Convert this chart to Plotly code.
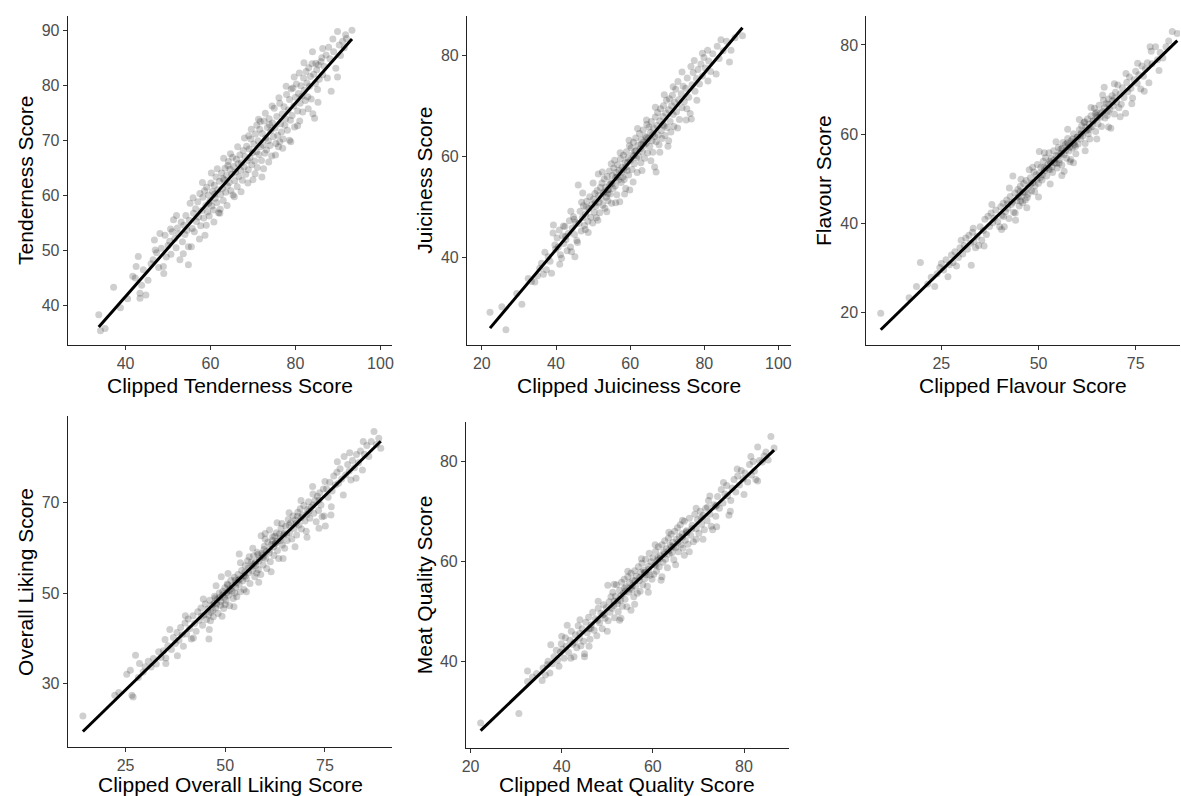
import numpy as np
import plotly.graph_objects as go

# ---------------- data ----------------
tenderness_pts = [
    (33.7,38.3),(34.1,35.4),(35.2,35.8),(37.2,43.3),(38.8,39.6),(40.5,41.2),(41.7,45.3),(42.3,45.0),(42.5,47.1),(43.0,48.9),
    (43.4,42.2),(43.4,41.3),(43.8,43.7),(44.8,41.9),(44.2,46.5),(45.3,44.6),
    (46.0,47.6),(46.5,48.3),(47.0,50.1),(47.3,49.6),(47.8,46.9),(48.1,53.1),(48.4,50.4),(48.9,47.1),(49.3,52.8),(49.6,48.8),
    (50.0,50.9),(50.4,51.7),(50.7,49.3),(51.0,53.4),(51.3,55.6),(51.6,52.2),(51.9,50.5),(52.2,54.1),(52.5,53.0),(52.8,48.3),
    (53.1,55.2),(53.4,51.6),(53.7,54.6),(54.0,52.9),(54.2,56.4),(54.5,53.7),(54.8,50.7),(54.8,47.4),(55.0,55.5),(55.2,58.6),
    (55.5,50.7),(55.7,54.0),
    (56.0,56.8),(56.2,53.4),(56.5,57.6),(56.7,55.3),(57.0,58.9),(57.2,56.1),(57.5,60.4),(57.7,54.5),(58.0,57.3),(58.2,59.7),
    (58.4,55.9),(58.7,52.8),(58.9,58.2),(59.1,61.5),(59.3,57.0),(59.5,60.1),(59.7,56.3),(59.9,59.0),(60.1,62.3),(60.3,58.1),
    (60.5,60.8),(60.7,57.4),(60.9,61.9),(61.1,59.5),(61.3,63.4),(61.5,58.7),(61.7,61.0),(61.9,56.9),(62.1,62.6),(62.2,56.8),
    (62.4,60.2),(62.6,64.1),(62.8,61.3),(63.0,59.1),(63.2,62.9),(63.4,65.0),(63.6,60.6),(63.8,63.7),(64.0,61.8),(64.2,66.2),
    (64.4,62.4),(64.6,64.8),(64.8,60.9),(65.0,63.9),(65.2,67.0),(65.3,60.1),(65.5,65.3),(65.7,62.7),(65.9,64.3),(66.1,66.6),
    (66.3,61.6),(66.5,65.8),(66.7,63.5),(66.9,67.4),(67.1,64.6),(64.1,65.5),(62.9,63.1),(61.0,60.3),(59.6,58.6),(58.6,60.9),
    (67.3,66.0),(67.5,62.8),(67.7,68.2),(67.9,65.2),(68.1,67.1),(68.3,63.9),(68.5,69.0),(68.7,66.4),(68.9,64.7),(69.1,68.5),
    (69.3,66.9),(69.5,70.3),(69.7,65.6),(69.9,67.8),(70.0,62.9),(70.2,69.4),(70.4,66.3),(70.6,71.2),(70.8,68.0),(71.0,65.1),
    (71.2,70.0),(71.4,67.5),(71.6,72.1),(71.8,68.9),(72.0,66.4),(72.2,71.3),(72.4,69.2),(72.6,73.6),(72.8,67.7),(73.0,70.5),
    (73.2,68.3),(73.4,72.4),(73.6,70.0),(73.8,74.0),(74.0,69.1),(74.2,71.8),(74.4,67.2),(74.6,73.2),(74.8,70.7),(75.0,75.9),
    (75.2,72.3),(75.4,69.5),(75.6,74.4),(75.8,71.0),(76.0,68.9),(76.3,69.8),(76.3,76.8),(76.5,73.1),(76.7,71.6),(76.9,74.9),
    (77.1,70.3),(77.3,76.2),(77.5,72.8),(77.7,74.0),(77.9,78.4),(69.0,70.9),(70.9,72.8),(72.5,64.9),(73.9,72.9),(71.7,73.5),
    (78.1,71.9),(78.3,75.6),(78.6,70.1),(78.6,77.5),(78.8,73.7),(79.0,79.4),(79.2,74.6),(79.4,79.6),(79.6,76.3),(79.8,72.5),
    (80.0,77.9),(80.2,80.3),(80.5,72.7),(80.5,75.4),(80.7,78.6),(80.9,82.3),(81.1,76.8),(81.3,80.0),(81.5,78.1),(81.7,75.2),
    (81.9,81.4),(82.1,79.2),(82.3,77.3),(82.5,82.6),(82.7,80.5),(82.9,78.0),(83.1,83.3),(83.3,79.9),(83.5,81.7),(83.7,77.6),
    (83.9,84.0),(84.1,74.9),(84.3,82.1),(84.5,74.1),(84.7,80.4),(84.8,84.1),(85.0,82.9),(85.2,79.3),(85.4,83.8),(85.6,81.2),
    (86.0,84.4),(86.4,86.8),(86.4,82.0),(86.8,83.5),(87.2,85.6),
    (87.5,81.4),(87.8,87.0),(88.1,84.9),(88.4,79.0),(88.8,88.5),(89.0,86.2),(89.5,83.2),(89.9,81.6),(89.9,89.9),(90.3,87.4),
    (90.6,85.5),(91.1,88.1),(91.5,86.9),(92.0,88.6),(93.3,90.1),(91.8,89.3),
    (55.9,59.6),(57.4,52.1),(58.1,62.4),(59.0,54.6),(60.2,64.1),(60.8,55.2),(61.6,64.9),(62.3,57.5),(63.1,66.8),(63.9,58.2),
    (64.7,67.6),(65.6,59.8),(66.4,68.9),(67.2,60.7),(68.0,70.5),(68.8,62.3),(69.6,72.1),(70.5,64.0),(71.3,73.9),(72.1,63.4),
    (72.9,75.0),(73.7,66.1),(74.5,76.3),(75.3,67.4),(76.1,77.8),(77.0,68.6),(77.8,79.9),(78.9,69.8),(79.7,81.6),(81.0,73.6),
    (82.0,84.2),(83.0,75.8),(84.0,86.2),(85.3,77.0),(86.2,85.1),(52.0,56.4),(50.6,53.9),(49.0,45.8),(46.8,51.9),(53.6,49.4),
]

juiciness_pts = [
    (22.2,29.2),(25.4,30.3),(26.5,25.7),(29.4,32.9),(30.8,30.8),(32.5,35.9),(33.4,35.3),(34.3,35.2),(35.0,36.4),(35.6,37.9),
    (36.1,38.9),(36.6,36.7),(37.4,37.6),(37.9,40.2),(38.8,36.9),(38.4,39.3),(39.3,46.5),(39.7,42.5),(39.2,44.9),(39.9,41.7),
    (40.3,43.9),(40.6,42.1),(40.9,45.5),(41.2,40.6),(41.5,39.9),(41.8,44.3),(42.1,42.8),(42.4,46.2),(42.7,43.6),(43.0,41.4),
    (43.3,44.8),(43.6,47.3),(43.9,42.1),(44.2,41.2),(44.4,45.9),(44.7,48.1),(45.1,40.2),(45.0,44.6),(45.3,47.0),(45.6,43.4),
    (46.0,54.4),(46.2,46.8),(46.5,49.2),(46.8,45.3),(47.1,47.9),(47.4,50.3),(47.7,46.4),(48.0,48.6),(48.3,51.2),(48.6,47.2),
    (48.9,49.8),(49.1,52.1),(49.4,48.0),(49.7,50.5),(49.9,46.9),(48.2,50.0),(46.9,51.0),(44.9,47.6),(42.6,44.2),(47.9,45.6),
    (50.1,51.6),(50.3,49.0),(50.5,52.7),(50.7,50.2),(50.9,47.9),(51.1,53.3),(51.4,56.6),(51.6,51.0),(51.8,48.9),(52.0,53.9),
    (52.2,51.7),(52.4,54.8),(52.6,50.4),(52.8,52.8),(53.0,55.6),(53.2,49.8),(53.4,54.0),(53.6,52.0),(53.8,56.1),(54.0,51.3),
    (54.2,53.5),(54.4,57.2),(54.6,52.6),(54.8,55.0),(55.0,50.8),(55.2,56.3),(55.4,53.7),(55.6,57.8),(55.8,59.3),(56.0,54.2),
    (56.2,56.9),(56.4,52.5),(56.6,58.4),(56.8,55.4),(57.0,57.3),(57.2,51.1),(57.4,59.6),(57.6,54.9),(57.8,57.9),(58.0,56.0),
    (58.2,60.3),(58.4,55.5),(58.6,58.8),(58.8,53.7),(59.0,61.0),(59.2,57.3),(59.4,59.7),(59.6,56.4),(59.9,53.4),(59.8,62.2),
    (55.1,54.7),(53.9,53.4),(56.1,55.9),(57.7,56.8),(58.9,58.0),(52.9,53.0),(54.5,54.5),(51.5,52.3),(50.6,50.9),(59.3,58.9),
    (60.1,59.3),(60.3,61.8),(60.5,57.5),(60.7,60.4),(60.9,62.9),(61.1,58.6),(61.3,61.1),(61.5,63.7),(61.7,59.8),(61.9,56.9),
    (62.1,62.3),(62.3,60.1),(62.5,64.6),(62.7,61.6),(62.9,58.8),(63.1,63.4),(63.3,61.0),(63.5,65.3),(63.7,62.2),(63.9,59.7),
    (64.1,64.0),(64.3,62.7),(64.5,66.4),(64.7,60.8),(64.9,63.6),(65.1,65.9),(65.3,62.1),(65.5,64.8),(65.7,67.0),(65.9,63.2),
    (66.1,60.9),(66.3,65.7),(66.6,58.0),(66.6,64.0),(66.8,67.9),(67.0,57.0),(67.0,63.0),(67.2,66.2),(67.4,68.8),(67.6,64.3),
    (67.8,62.4),(68.0,67.1),(68.2,69.5),(68.4,65.2),(68.6,63.6),(68.8,68.0),(69.0,70.1),(69.2,66.1),(69.4,64.2),(69.6,68.7),
    (69.8,71.2),(70.0,65.8),(61.6,61.2),(63.0,62.5),(64.4,63.8),
    (70.2,62.1),(70.4,69.3),(70.6,71.5),(70.8,67.0),(71.0,64.9),(71.2,70.1),(71.4,72.2),(71.6,68.4),(71.8,66.0),(72.0,70.8),
    (72.3,73.4),(72.5,68.9),(72.9,74.9),(73.1,71.3),(73.3,67.4),(73.8,72.5),(74.0,69.7),(74.3,74.0),(74.6,70.9),(75.1,67.3),
    (75.0,73.6),(75.4,75.6),(75.8,71.8),(76.2,68.6),(76.5,67.5),(76.7,74.3),(77.0,76.7),(77.3,79.1),(77.5,73.0),(77.9,75.5),
    (78.3,77.3),(78.7,74.4),(79.1,78.4),(79.5,76.0),(79.9,79.7),
    (80.3,77.6),(80.9,81.1),(81.2,79.0),(81.7,76.9),(82.3,80.4),(83.2,76.4),(83.5,81.9),(84.0,79.5),(84.5,83.2),(85.1,81.0),
    (86.0,82.9),(86.8,78.8),(87.2,81.1),(88.3,83.6),(90.3,84.0),
    (44.0,49.2),(45.8,43.0),(47.2,52.8),(48.7,45.0),(50.0,54.8),(51.3,47.4),(52.5,57.0),(53.7,49.1),(54.9,58.6),(56.1,50.9),
    (57.3,60.8),(58.5,52.6),(59.7,63.3),(60.8,55.0),(62.0,65.6),(63.2,57.3),(64.4,67.3),(65.6,59.2),(66.8,69.8),(68.0,60.9),
    (69.2,72.3),(70.4,63.2),(71.6,73.9),(72.8,65.7),(74.0,76.8),(75.3,69.5),(76.4,77.9),(78.0,71.2),(79.5,80.5),(81.0,75.0),
    (42.0,46.3),(41.0,38.7),(37.0,41.1),(56.5,56.0),(61.0,60.2),(63.6,62.9),(66.0,64.4),(58.3,57.5),(54.0,52.7),(68.9,66.4),
]

flavour_pts = [
    (9.4,19.8),(16.7,23.3),(18.6,25.8),(19.6,31.2),(21.5,26.4),(22.4,27.9),(23.3,25.8),(23.9,28.7),(24.6,30.1),(25.0,31.0),
    (25.6,29.5),(26.2,31.8),(26.7,28.0),(27.1,30.7),(27.6,32.9),(28.0,31.2),(28.5,33.6),(28.9,30.4),(29.4,32.3),(29.8,34.5),
    (30.1,36.2),(30.5,33.1),(30.9,35.0),(31.3,36.7),(31.7,34.2),(32.1,37.3),(32.5,35.5),(32.7,30.6),(33.0,38.0),(33.4,35.9),
    (33.8,34.5),(34.2,37.1),(34.6,35.0),(35.0,39.2),(35.4,36.2),(35.8,38.4),(36.2,40.9),(36.6,37.5),(37.0,41.6),(37.4,39.3),
    (37.8,42.3),(38.2,40.1),(38.6,41.2),(39.0,43.0),(39.5,40.4),
    (40.0,39.2),(40.3,43.7),(40.6,41.8),(40.9,44.5),(41.2,39.2),(41.5,42.6),(41.8,45.2),(42.1,43.4),(42.4,41.1),(42.7,46.0),
    (43.0,44.2),(43.4,50.6),(43.6,42.5),(43.9,46.8),(44.1,40.7),(44.4,45.1),(44.7,47.6),(45.0,43.9),(45.3,48.3),(45.6,46.0),
    (45.9,44.6),(46.2,48.9),(46.5,47.0),(46.8,49.6),(47.1,45.8),(47.4,48.0),(47.6,52.0),(47.9,50.2),(48.2,47.3),(48.5,49.1),
    (48.8,51.5),(49.1,48.4),(49.4,50.9),(49.7,53.2),(50.0,49.0),(49.0,47.1),(48.0,48.8),(46.0,46.9),(44.8,45.9),(43.3,44.7),
    (42.0,44.4),(41.0,41.5),(46.6,45.2),(47.3,46.5),(45.4,45.0),
    (50.2,56.1),(50.3,51.3),(50.6,52.6),(50.9,49.7),(51.2,53.9),(51.5,51.8),(51.8,54.7),(52.1,50.6),(52.4,53.2),(52.7,55.8),
    (53.0,52.0),(53.3,54.5),(53.6,51.4),(53.9,56.3),(54.2,53.6),(54.5,55.2),(54.8,52.4),(55.1,57.0),(55.4,54.3),(55.7,56.6),
    (56.0,53.1),(56.3,58.1),(56.6,51.7),(56.6,55.4),(56.9,57.7),(57.2,54.6),(57.5,59.0),(57.8,56.2),(58.1,53.8),(58.3,54.3),
    (58.4,58.5),(58.7,56.9),(59.0,60.1),(59.3,57.6),(59.6,55.6),(59.9,59.3),(51.0,50.9),(52.0,52.4),(53.1,53.5),(54.0,54.2),
    (55.0,55.1),(55.9,55.6),(57.0,56.4),(58.0,57.1),(59.1,58.2),(57.4,58.0),(56.1,56.8),(54.6,53.4),(53.5,52.7),(52.6,52.1),
    (51.4,52.6),(50.5,50.3),(55.3,53.5),(59.5,57.2),(58.8,58.9),
    (60.2,57.8),(60.5,61.0),(60.8,58.9),(61.1,61.9),(61.4,59.6),(61.7,62.6),(62.0,57.9),(62.3,60.8),(62.6,63.4),(62.9,61.0),
    (63.2,58.9),(63.5,64.1),(63.8,61.7),(64.1,63.0),(64.4,65.8),(64.7,60.6),(65.0,64.2),(65.3,62.3),(65.6,66.5),(65.9,63.8),
    (66.2,61.7),(66.5,65.1),(66.9,70.5),(67.1,63.6),(67.4,66.8),(67.7,64.2),(68.0,67.9),(68.3,65.6),(68.6,61.3),(68.9,68.6),
    (69.2,66.3),(69.5,64.5),(69.8,69.4),(70.1,67.2),(70.4,71.0),(70.7,65.9),(61.0,60.3),(62.1,61.5),(63.0,62.2),(64.0,62.9),
    (65.1,63.7),(66.0,64.8),(67.0,66.0),(68.1,66.7),(69.0,67.5),(60.0,59.4),(62.8,60.1),(64.6,64.6),(66.7,67.6),(69.6,68.1),
    (71.0,69.0),(71.3,66.7),(71.6,70.4),(72.0,68.2),(72.4,64.7),(72.7,71.6),(73.0,69.5),(73.4,72.8),(73.8,70.3),(74.2,68.1),
    (74.6,72.2),(75.0,74.1),(75.4,71.4),(75.8,73.3),(76.3,70.1),(76.6,75.3),(77.0,73.0),(77.5,74.6),(78.0,76.0),(78.4,71.5),
    (78.7,79.6),(79.2,75.8),(80.1,79.6),(80.6,76.7),(81.3,78.3),(82.0,77.1),(82.8,79.6),(83.5,80.9),(84.4,83.0),(85.7,82.6),
    (33.2,38.9),(36.0,34.9),(38.0,44.2),(40.5,38.6),(42.5,47.9),(44.0,42.3),(45.5,49.9),(47.0,43.5),(48.5,52.6),(50.0,45.9),
    (51.5,55.8),(53.0,48.8),(54.5,58.3),(56.0,50.7),(57.5,61.1),(59.0,53.6),(60.5,63.3),(62.0,56.3),(63.5,66.0),(65.0,58.9),
    (66.5,68.8),(68.0,61.6),(69.5,71.3),(71.0,63.9),(72.5,73.6),(74.0,66.8),(75.5,75.9),(77.2,69.6),(79.0,78.6),(81.0,74.3),
    (55.6,55.7),(57.7,57.5),(60.9,60.0),(63.3,61.5),(61.9,62.8),(64.9,64.9),(67.9,65.1),(52.9,53.9),(49.6,49.8),(45.2,47.1),
]

overall_pts = [
    (14.3,22.9),(22.3,27.5),(23.3,28.1),(25.3,32.1),(26.2,33.0),(26.6,27.5),(26.9,27.1),(27.5,36.3),(28.5,34.5),(28.2,31.4),
    (29.4,32.6),(29.9,33.8),
    (30.7,35.0),(31.4,33.7),(32.0,35.6),(32.7,34.4),(33.3,37.1),(33.9,35.8),(34.5,37.3),(34.9,39.8),(35.1,34.5),(35.1,35.7),
    (35.6,38.4),(36.1,42.0),(36.5,37.6),(37.0,40.2),(37.5,38.9),(37.9,41.3),(38.4,39.6),(38.8,42.4),(39.2,40.8),(39.5,38.3),
    (39.9,43.4),(40.3,41.0),(40.7,44.3),(41.1,42.2),(41.5,39.9),(41.9,45.0),(42.3,43.3),(42.7,41.6),(43.1,45.9),(43.5,44.0),
    (43.9,46.7),(44.3,42.9),(44.7,45.2),(45.0,47.6),(44.0,44.9),
    (45.3,44.2),(45.6,46.5),(45.9,39.9),(46.1,48.4),(46.4,45.8),(46.7,47.4),(47.0,44.8),(47.3,49.3),(47.6,46.7),(47.9,48.6),
    (48.2,45.5),(48.5,50.0),(48.8,47.3),(49.0,53.6),(49.3,49.6),(49.6,46.6),(49.9,51.2),(50.2,48.4),(50.5,52.0),(50.8,49.5),
    (51.1,47.2),(51.4,52.8),(51.7,50.4),(52.0,48.8),(52.3,53.5),(52.6,51.3),(52.9,49.2),(53.2,54.1),(53.5,58.6),(53.5,51.9),
    (53.8,50.3),(54.1,55.0),(54.4,52.7),(54.7,50.8),(55.0,56.0),(45.8,45.1),(46.9,46.2),(47.8,47.6),(48.9,48.1),(49.8,49.0),
    (50.9,50.5),(51.8,51.6),(52.8,52.3),(53.7,53.1),(54.6,53.8),(46.3,43.9),(47.5,48.9),(48.6,49.0),(50.0,47.5),(51.2,50.9),
    (52.4,50.0),(53.3,52.9),(54.9,54.6),(50.6,51.8),(49.4,50.4),
    (55.3,53.2),(55.6,57.1),(55.9,54.5),(56.2,52.1),(56.5,56.8),(56.8,54.9),(57.1,58.2),(57.4,53.6),(57.7,56.1),(58.0,59.0),
    (58.3,55.2),(58.6,57.6),(58.9,54.1),(59.0,62.6),(59.2,58.7),(59.5,56.2),(59.8,60.3),(60.1,57.6),(60.4,55.4),(60.7,61.2),
    (61.1,63.9),(61.0,58.8),(61.3,56.9),(61.6,60.7),(61.9,62.4),(62.2,58.3),(62.5,60.9),(62.8,63.3),(63.1,59.4),(63.4,57.6),
    (63.7,62.0),(64.0,64.3),(64.3,60.6),(64.6,62.8),(64.9,59.9),(55.8,55.5),(56.7,55.9),(57.6,56.8),(58.5,57.1),(59.4,58.3),
    (60.3,59.1),(61.2,59.6),(62.1,60.2),(63.0,61.4),(63.9,61.6),(64.8,63.1),(56.0,58.0),(57.9,54.4),(60.0,61.9),(62.6,61.0),
    (64.2,65.3),(59.7,59.6),(61.8,61.6),(58.2,58.5),(63.6,63.0),
    (65.2,64.7),(65.5,61.6),(65.8,66.2),(66.1,63.3),(66.4,65.5),(66.7,61.9),(67.0,67.0),(67.3,64.2),(67.6,66.1),(67.9,62.8),
    (68.2,67.8),(68.5,65.0),(68.8,68.6),(69.1,64.1),(69.4,67.2),(69.7,69.3),(70.0,65.9),(70.3,63.6),(70.6,68.4),(70.9,70.1),
    (71.2,66.5),(71.5,68.9),(71.9,73.5),(72.2,67.6),(72.5,70.4),(72.8,65.7),(73.1,71.3),(73.4,68.2),(73.7,72.1),(74.0,69.4),
    (74.3,66.8),(74.8,67.0),(75.1,64.8),(66.0,65.0),(67.8,65.4),(69.0,66.6),(70.5,67.3),(72.0,69.4),(73.5,70.5),(74.6,72.9),
    (75.4,73.0),(75.8,71.1),(76.2,74.4),(76.5,67.2),(76.8,72.5),(77.2,75.8),(77.6,73.8),(78.0,76.6),(78.4,74.2),(78.8,77.4),
    (79.2,75.1),(79.8,80.1),(80.2,76.0),(80.7,78.3),(81.1,76.9),(81.5,74.9),(81.9,79.2),(82.4,77.6),(82.9,80.5),(83.4,78.7),
    (83.9,81.3),(84.4,77.1),(84.9,80.6),(85.5,82.5),(86.0,80.1),(86.6,83.4),(87.3,85.6),(87.9,82.7),(88.5,84.1),(89.0,81.9),
    (38.0,36.2),(40.0,45.0),(42.0,40.1),(44.5,48.7),(46.0,42.0),(47.7,51.6),(49.2,44.9),(50.7,54.3),(52.2,47.0),(53.8,56.7),
    (55.3,50.3),(56.9,59.9),(58.4,52.4),(60.0,63.1),(61.5,54.7),(63.0,65.5),(64.5,57.6),(66.0,67.7),(67.5,60.2),(69.0,70.4),
    (70.5,62.3),(72.0,71.8),(73.5,64.3),(75.0,74.6),(76.6,69.0),(78.1,78.9),(79.6,71.6),(81.2,80.9),(82.8,75.3),(84.6,83.4),
    (55.0,53.7),(57.2,56.4),(59.6,57.9),(62.4,62.5),(65.4,63.0),(68.1,66.9),(71.0,68.0),(52.5,52.8),(50.3,50.0),(47.2,47.7),
]

meat_quality_pts = [
    (22.2,27.7),(30.6,29.6),(32.5,38.1),(32.5,36.0),(33.6,36.9),(34.5,37.6),(35.7,36.2),(35.9,38.7),(36.4,37.3),(37.0,40.0),
    (37.4,37.7),(37.6,43.3),(37.9,39.5),(38.3,40.9),(38.8,42.2),(39.1,40.2),(39.4,39.0),(39.7,41.8),(39.9,43.5),(36.8,39.3),
    (40.2,42.4),(40.5,40.6),(40.8,44.7),(41.0,43.0),(41.2,47.2),(41.5,41.8),(41.8,44.2),(42.1,46.0),(42.4,43.4),(42.7,40.9),
    (43.0,45.3),(43.3,42.7),(43.6,47.1),(43.9,44.6),(44.2,43.1),(44.5,46.5),(44.8,44.0),(45.0,40.9),(45.0,41.5),(45.3,47.8),
    (45.6,45.7),(45.9,48.8),(46.2,44.4),(46.5,47.3),(46.8,49.8),(47.1,46.2),(47.4,48.5),(47.7,45.1),(48.0,50.6),(48.3,47.7),
    (48.6,49.6),(48.9,46.5),(49.2,51.3),(49.5,48.6),(49.8,50.7),(44.0,45.6),(46.0,46.5),(47.9,48.2),(49.0,49.2),(42.8,43.8),
    (50.1,55.2),(50.2,48.1),(50.4,51.9),(50.6,49.8),(50.8,52.9),(51.0,50.6),(51.2,53.8),(51.4,51.1),(51.6,48.7),(51.8,53.0),
    (52.0,55.3),(52.2,51.5),(52.4,49.9),(52.7,48.2),(52.7,54.2),(52.9,52.2),(53.1,55.8),(53.3,51.0),(53.5,53.6),(53.7,56.4),
    (53.9,52.4),(54.1,54.9),(54.3,50.9),(54.5,56.9),(54.7,53.8),(54.9,55.7),(55.2,50.2),(55.2,57.6),(55.4,54.3),(55.6,56.2),
    (55.8,52.9),(56.0,58.1),(56.2,55.0),(56.4,57.0),(56.6,53.6),(56.8,58.9),(57.0,56.1),(57.2,54.0),(57.4,57.8),(57.6,59.6),
    (57.8,55.3),(58.0,58.2),(58.2,56.5),(58.4,60.4),(58.6,57.3),(58.8,55.0),(59.0,59.0),(59.2,61.6),(59.4,57.2),(59.6,59.9),
    (59.8,56.4),(51.5,52.0),(53.0,53.1),(54.0,54.0),(55.0,54.6),(56.1,56.1),(57.1,56.8),(58.1,57.7),(59.1,58.4),(53.8,54.6),
    (60.0,60.7),(60.2,57.4),(60.4,59.3),(60.6,62.0),(60.8,58.0),(61.0,60.2),(61.2,62.9),(61.4,58.9),(61.6,61.1),(61.8,56.2),
    (62.0,63.3),(62.2,59.8),(62.4,61.9),(62.6,64.1),(62.8,60.4),(63.0,62.5),(63.2,58.7),(63.4,64.6),(63.6,61.4),(63.8,63.2),
    (64.0,65.4),(64.2,61.7),(64.4,63.8),(64.6,60.3),(64.8,66.0),(65.0,62.7),(65.2,64.4),(65.4,66.7),(65.6,61.9),(65.8,64.9),
    (66.0,67.3),(66.2,63.3),(66.4,65.5),(66.6,62.6),(66.9,61.2),(66.9,68.0),(67.1,64.2),(67.4,66.1),(67.7,63.4),(68.0,68.6),
    (68.3,65.2),(68.6,67.2),(68.9,63.9),(69.2,69.4),(69.5,66.5),(69.8,68.3),(61.5,60.5),(62.5,61.4),(63.5,62.1),(64.5,62.9),
    (65.5,63.8),(66.5,64.8),(67.5,65.7),(68.5,66.5),(69.5,64.4),
    (70.1,65.6),(70.4,70.0),(70.7,67.4),(71.0,69.2),(71.3,66.3),(71.6,70.6),(71.9,68.1),(72.2,72.1),(72.5,69.4),(72.8,67.0),
    (73.1,66.3),(73.4,71.3),(73.8,69.0),(74.2,72.9),(74.6,70.6),(75.0,74.3),(75.4,71.6),(75.8,73.4),(76.2,75.1),(76.7,69.2),
    (77.1,72.1),(77.4,74.6),(77.8,76.3),(78.2,73.8),(78.6,77.0),(79.0,75.2),(79.4,78.1),(79.8,76.4),(72.0,70.8),(74.0,71.2),
    (80.2,77.6),(80.8,75.8),(81.2,79.3),(81.6,77.2),(82.0,79.9),(82.3,78.0),(82.6,76.3),(83.0,82.8),(83.4,80.1),(84.0,79.8),
    (84.4,81.0),(84.8,81.8),(85.3,80.2),(85.9,84.9),(86.6,82.6),
    (40.0,45.0),(42.0,40.6),(44.0,48.3),(46.0,43.0),(48.0,52.0),(50.0,46.0),(51.5,55.4),(53.0,48.6),(54.5,58.0),(56.0,51.4),
    (57.5,60.5),(59.0,53.8),(60.5,63.3),(62.0,56.9),(63.5,65.8),(65.0,59.3),(66.5,68.2),(68.0,61.9),(69.5,70.6),(71.0,64.4),
    (72.5,73.0),(74.0,66.9),(75.5,75.7),(77.0,70.0),(78.5,78.4),(80.0,73.3),(81.5,80.9),(83.0,76.0),(46.4,46.6),(49.3,49.4),
    (52.3,52.1),(55.5,55.1),(58.3,57.8),(61.1,60.7),(64.1,62.9),(67.3,65.9),(70.6,68.7),(73.7,70.9),(76.4,73.0),(60.7,59.2),
]

x_titles = ["Clipped Tenderness Score", "Clipped Juiciness Score", "Clipped Flavour Score",
            "Clipped Overall Liking Score", "Clipped Meat Quality Score"]
y_titles = ["Tenderness Score", "Juiciness Score", "Flavour Score",
            "Overall Liking Score", "Meat Quality Score"]
x_tickvals = [[40, 60, 80, 100], [20, 40, 60, 80, 100], [25, 50, 75], [25, 50, 75], [20, 40, 60, 80]]
y_tickvals = [[40, 50, 60, 70, 80, 90], [40, 60, 80], [20, 40, 60, 80], [30, 50, 70], [40, 60, 80]]

# ---------------- layout (pixel geometry of the 1181x796 page) ----------------
W, H = 1181, 796
panel_px = [  # (left, right, top, bottom) in pixels
    (64, 390, 16, 345),
    (465, 790, 16, 345),
    (866, 1181, 16, 345),
    (64, 390, 416, 747),
    (464, 788, 422, 748),
]
x_ranges = [(26.4, 102.8), (16.0, 103.3), (5.7, 86.4), (10.5, 91.9), (19.0, 89.8)]
y_ranges = [(32.8, 92.7), (22.7, 87.9), (12.7, 86.5), (16.1, 89.0), (22.7, 87.8)]
ytitle_x_px = [21.5, 422, 823, 21.5, 422]
xtitle_y_px = [385, 385, 385, 784, 784]

FONT = "Liberation Sans, Arial, sans-serif"
datasets = [tenderness_pts, juiciness_pts, flavour_pts, overall_pts, meat_quality_pts]

fig = go.Figure()
annotations = []
for i, pts in enumerate(datasets):
    n = i + 1
    xs = np.array([p[0] for p in pts])
    ys = np.array([p[1] for p in pts])
    xa = "x" if n == 1 else f"x{n}"
    ya = "y" if n == 1 else f"y{n}"
    fig.add_trace(go.Scatter(
        x=xs, y=ys, mode="markers", xaxis=xa, yaxis=ya,
        marker=dict(size=7, color="rgba(0,0,0,0.19)", line=dict(width=0)),
        showlegend=False, hoverinfo="skip"))
    slope, intercept = np.polyfit(xs, ys, 1)
    lx = np.array([xs.min(), xs.max()])
    fig.add_trace(go.Scatter(
        x=lx, y=intercept + slope * lx, mode="lines", xaxis=xa, yaxis=ya,
        line=dict(color="black", width=3), showlegend=False, hoverinfo="skip"))

    l, r, t, b = panel_px[i]
    common = dict(showline=True, linecolor="#222222", linewidth=1.2, ticks="outside",
                  ticklen=4, tickwidth=1.2, tickcolor="#333333", showgrid=False,
                  zeroline=False, tickfont=dict(family=FONT, size=16, color="#4D4D4D"))
    fig.layout[f"xaxis{n if n > 1 else ''}"] = dict(
        domain=[l / W, r / W], range=list(x_ranges[i]), tickvals=x_tickvals[i],
        anchor=ya, **common)
    fig.layout[f"yaxis{n if n > 1 else ''}"] = dict(
        domain=[1 - b / H, 1 - t / H], range=list(y_ranges[i]), tickvals=y_tickvals[i],
        anchor=xa, **common)

    annotations.append(dict(
        text=x_titles[i], xref="paper", yref="paper", x=(l + r) / 2 / W,
        y=1 - xtitle_y_px[i] / H, xanchor="center", yanchor="middle", showarrow=False,
        font=dict(family=FONT, size=21, color="black")))
    annotations.append(dict(
        text=y_titles[i], xref="paper", yref="paper", x=ytitle_x_px[i] / W,
        y=1 - (t + b) / 2 / H, xanchor="center", yanchor="middle", showarrow=False,
        textangle=-90, font=dict(family=FONT, size=21, color="black")))

fig.update_layout(
    width=W, height=H, margin=dict(l=0, r=0, t=0, b=0),
    paper_bgcolor="white", plot_bgcolor="white",
    annotations=annotations, showlegend=False)

fig.write_html("out.html")
